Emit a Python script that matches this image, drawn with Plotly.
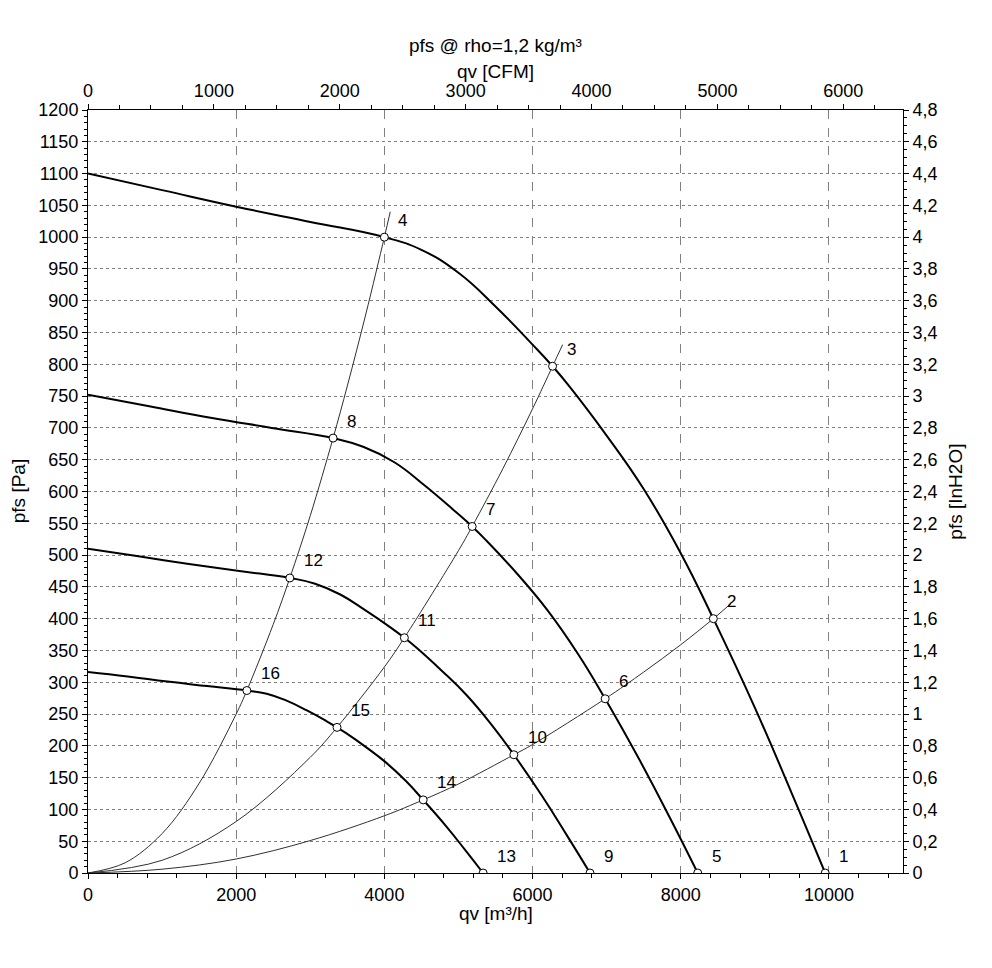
import plotly.graph_objects as go

# ---- data ----
# fan curves (qv [m3/h], pfs [Pa]) for four speeds
fan1_q = [0, 1000, 2000, 3000, 4000, 4500, 5000, 5500, 6000, 6270, 6500, 7000, 7500, 8000, 8440, 9000, 9500, 9950]
fan1_p = [1100, 1074, 1048, 1024, 1000, 980, 944, 891, 831, 797, 765, 688, 604, 503, 400, 260, 125, 0]
fan2_q = [0, 827, 1654, 2481, 3308, 3722, 4135, 4549, 4962, 5185, 5376, 5789, 6203, 6616, 6980, 7443, 7857, 8229]
fan2_p = [752, 734, 716, 700, 684, 670, 646, 609, 568, 545, 523, 471, 413, 344, 274, 178, 86, 0]
fan3_q = [0, 681, 1362, 2043, 2724, 3065, 3405, 3746, 4086, 4270, 4427, 4767, 5108, 5448, 5748, 6129, 6470, 6776]
fan3_p = [510, 498, 486, 475, 464, 455, 438, 413, 386, 370, 355, 319, 280, 233, 186, 121, 58, 0]
fan4_q = [0, 536, 1072, 1608, 2144, 2412, 2680, 2948, 3216, 3361, 3484, 3752, 4020, 4288, 4524, 4824, 5092, 5333]
fan4_p = [316, 309, 301, 294, 287, 282, 271, 256, 239, 229, 220, 198, 174, 145, 115, 75, 36, 0]

# system curves
sys1_q = [0, 500, 1000, 1500, 2000, 2144, 2500, 2724, 3000, 3308, 3500, 3750, 4000, 4080]
sys1_p = [0, 16, 62, 141, 250, 287, 391, 464, 562, 684, 766, 879, 1000, 1040]
sys2_q = [0, 1000, 2000, 3000, 3361, 4000, 4270, 5000, 5185, 5600, 6000, 6270, 6406]
sys2_p = [0, 20, 81, 182, 229, 324, 370, 507, 545, 636, 730, 797, 831]
sys3_q = [0, 1000, 2000, 3000, 4000, 4524, 5000, 5748, 6000, 6980, 7500, 8000, 8440, 8680]
sys3_p = [0, 6, 22, 51, 90, 115, 140, 186, 202, 274, 316, 359, 400, 424]

# operating points
pt_q = [9950, 8440, 6270, 4000, 8229, 6980, 5185, 3308, 6776, 5748, 4270, 2724, 5333, 4524, 3361, 2144]
pt_p = [0, 400, 797, 1000, 0, 274, 545, 684, 0, 186, 370, 464, 0, 115, 229, 287]
pt_labels = ["1", "2", "3", "4", "5", "6", "7", "8", "9", "10", "11", "12", "13", "14", "15", "16"]

# axis ticks
x_ticks = [0, 2000, 4000, 6000, 8000, 10000]
cfm_ticks = [0, 1000, 2000, 3000, 4000, 5000, 6000]
pa_ticks = list(range(0, 1201, 50))
inh2o_vals = [0, 0.2, 0.4, 0.6, 0.8, 1, 1.2, 1.4, 1.6, 1.8, 2, 2.2, 2.4, 2.6, 2.8, 3, 3.2, 3.4, 3.6, 3.8, 4, 4.2, 4.4, 4.6, 4.8]
inh2o_text = ["0", "0,2", "0,4", "0,6", "0,8", "1", "1,2", "1,4", "1,6", "1,8", "2", "2,2", "2,4", "2,6", "2,8",
              "3", "3,2", "3,4", "3,6", "3,8", "4", "4,2", "4,4", "4,6", "4,8"]

FONT = "Liberation Sans, Arial, sans-serif"
FS_TICK = 18
FS_TITLE = 19
FS_LABEL = 17

fig = go.Figure()

for q, p in [(sys1_q, sys1_p), (sys2_q, sys2_p), (sys3_q, sys3_p)]:
    fig.add_trace(go.Scatter(x=q, y=p, mode="lines", line=dict(color="#303030", width=1, shape="spline", smoothing=1.0),
                             showlegend=False, hoverinfo="skip"))

for q, p in [(fan1_q, fan1_p), (fan2_q, fan2_p), (fan3_q, fan3_p), (fan4_q, fan4_p)]:
    fig.add_trace(go.Scatter(x=q, y=p, mode="lines", line=dict(color="black", width=2, shape="spline", smoothing=1.3),
                             showlegend=False, hoverinfo="skip"))

fig.add_trace(go.Scatter(x=pt_q, y=pt_p, mode="markers",
                         marker=dict(symbol="circle", size=8, color="white", line=dict(color="black", width=1)),
                         showlegend=False))

# dummy traces to activate secondary axes
fig.add_trace(go.Scatter(x=[0], y=[0], xaxis="x2", yaxis="y", mode="markers", marker=dict(opacity=0),
                         showlegend=False, hoverinfo="skip"))
fig.add_trace(go.Scatter(x=[0], y=[0], xaxis="x", yaxis="y2", mode="markers", marker=dict(opacity=0),
                         showlegend=False, hoverinfo="skip"))

for q, p, t in zip(pt_q, pt_p, pt_labels):
    fig.add_annotation(x=q, y=p, text=t, showarrow=False, xanchor="left", yanchor="middle",
                       xshift=12, yshift=17, font=dict(family=FONT, size=FS_LABEL, color="black"))

axis_common = dict(showline=True, linecolor="black", linewidth=1, mirror=False, zeroline=False,
                   tickfont=dict(family=FONT, size=FS_TICK, color="black"), ticks="outside", ticklen=5,
                   tickcolor="black", automargin=False)

fig.update_layout(
    width=976, height=952,
    paper_bgcolor="white", plot_bgcolor="white",
    margin=dict(l=80, r=81, t=102, b=87, autoexpand=False),
    font=dict(family=FONT, size=FS_TICK, color="black"),
    xaxis=dict(range=[0, 11000], tickvals=x_ticks, ticktext=[str(v) for v in x_ticks],
               showgrid=True, gridcolor="#808080", griddash="dash", gridwidth=1,
               minor=dict(dtick=400, tick0=0, ticks="outside", ticklen=4, tickcolor="black", showgrid=False),
               **axis_common),
    xaxis2=dict(range=[0, 11000 / 1.699], overlaying="x", side="top", anchor="y",
                tickvals=cfm_ticks, ticktext=[str(v) for v in cfm_ticks], showgrid=False,
                minor=dict(dtick=250, tick0=0, ticks="outside", ticklen=4, tickcolor="black", showgrid=False),
                **axis_common),
    yaxis=dict(range=[0, 1200], tickvals=pa_ticks, ticktext=[str(v) for v in pa_ticks],
               showgrid=True, gridcolor="#808080", griddash="dot", gridwidth=1,
               minor=dict(dtick=10, tick0=0, ticks="outside", ticklen=3, tickcolor="black", showgrid=False),
               **axis_common),
    yaxis2=dict(range=[0, 4.8], overlaying="y", side="right", anchor="x",
                tickvals=inh2o_vals, ticktext=inh2o_text, showgrid=False,
                minor=dict(dtick=0.05, tick0=0, ticks="outside", ticklen=3, tickcolor="black", showgrid=False),
                **axis_common),
)

titles = [
    dict(text="pfs @ rho=1,2 kg/m³", x=0.5, y=1.085, textangle=0),
    dict(text="qv [CFM]", x=0.5, y=1.05, textangle=0),
    dict(text="qv [m³/h]", x=0.5, y=-0.053, textangle=0),
    dict(text="pfs [Pa]", x=-0.085, y=0.5, textangle=-90),
    dict(text="pfs [InH2O]", x=1.064, y=0.5, textangle=-90),
]
for t in titles:
    fig.add_annotation(xref="paper", yref="paper", x=t["x"], y=t["y"], text=t["text"], textangle=t["textangle"],
                       showarrow=False, xanchor="center", yanchor="middle",
                       font=dict(family=FONT, size=FS_TITLE, color="black"))

fig.write_html("out.html")
